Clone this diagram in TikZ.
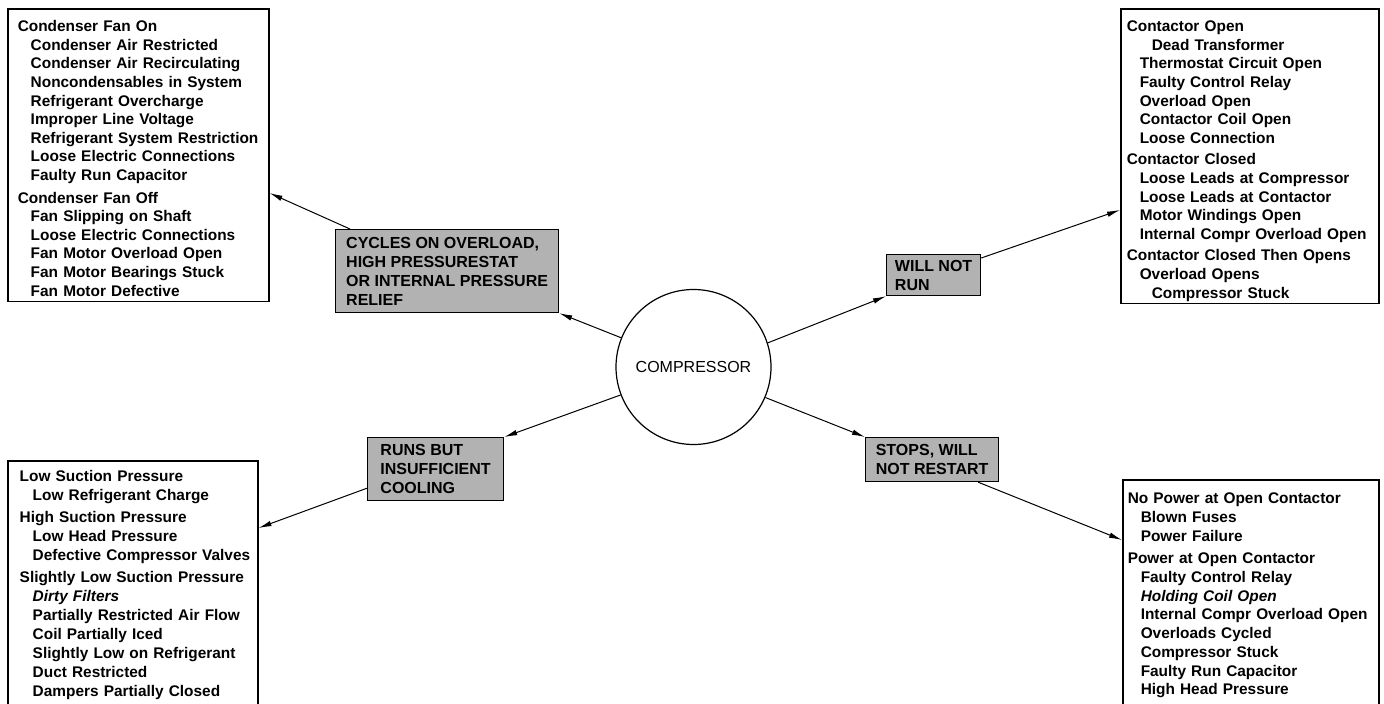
\documentclass[tikz,border=0pt]{standalone}
\usepackage{fontspec}
\setmainfont{Liberation Sans}
\usepackage{tikz}
\usetikzlibrary{arrows.meta}
\setlength{\parindent}{0pt}
\newcommand{\ind}{\hspace*{13pt}}
\newcommand{\iind}{\hspace*{25pt}}
\newcommand{\firstrow}[1]{\rule{0pt}{#1}}
\newcommand{\lastrow}{\rule[-10pt]{0pt}{10pt}}

\begin{document}
\begin{tikzpicture}[x=1pt,y=-1pt,
	listbox/.style={draw, line width=1.5pt, anchor=north west, inner ysep=0pt, align=left,
		font=\bfseries\fontsize{15.4}{18.6}\selectfont},
	fault/.style={draw, line width=1.2pt, fill=black!30, anchor=north west, inner sep=0pt, align=left,
		font=\bfseries\fontsize{16}{19}\selectfont},
	link/.style={line width=1pt, -{Latex[length=13pt,width=5.5pt]}}]
	\useasboundingbox (0,0) rectangle (1384,704);
	%compressor in the middle, one cause label per direction
	\node[draw, circle, line width=1.2pt, minimum size=155pt, inner sep=0pt,
		font=\fontsize{16}{18}\selectfont] (comp) at (693.5,367) {COMPRESSOR};
	
	\node[fault, minimum width=223pt, minimum height=83pt] (cycles) at (335,229)
		{CYCLES ON OVERLOAD,\\HIGH PRESSURESTAT\\OR INTERNAL PRESSURE\\RELIEF};
	\node[fault, minimum width=94pt, minimum height=41pt] (norun) at (886,254) {WILL NOT\\RUN};
	\node[fault, minimum width=136pt, minimum height=63pt] (lowcool) at (367,437) {RUNS BUT\\INSUFFICIENT\\COOLING};
	\node[fault, minimum width=133pt, minimum height=44pt] (norestart) at (865,437) {STOPS, WILL\\NOT RESTART};
	
	\node[listbox, inner xsep=10pt, text width=241pt] (fanbox) at (7,8) {\begin{tabular}{@{}l@{}}
		\firstrow{23pt}Condenser Fan On\\
		\ind Condenser Air Restricted\\
		\ind Condenser Air Recirculating\\
		\ind Noncondensables in System\\
		\ind Refrigerant Overcharge\\
		\ind Improper Line Voltage\\
		\ind Refrigerant System Restriction\\
		\ind Loose Electric Connections\\
		\ind Faulty Run Capacitor\\[4pt]
		Condenser Fan Off\\
		\ind Fan Slipping on Shaft\\
		\ind Loose Electric Connections\\
		\ind Fan Motor Overload Open\\
		\ind Fan Motor Bearings Stuck\\
		\ind Fan Motor Defective
	\end{tabular}};
	
	\node[listbox, inner xsep=6pt, text width=246pt] (runbox) at (1120,8) {\begin{tabular}{@{}l@{}}
		\firstrow{23pt}Contactor Open\\
		\iind Dead Transformer\\
		\ind Thermostat Circuit Open\\
		\ind Faulty Control Relay\\
		\ind Overload Open\\
		\ind Contactor Coil Open\\
		\ind Loose Connection\\[3pt]
		Contactor Closed\\
		\ind Loose Leads at Compressor\\
		\ind Loose Leads at Contactor\\
		\ind Motor Windings Open\\
		\ind Internal Compr Overload Open\\[3pt]
		Contactor Closed Then Opens\\
		\ind Overload Opens\\
		\iind Compressor Stuck
	\end{tabular}};
	
	\node[listbox, inner xsep=12pt, text width=226pt, font=\bfseries\fontsize{15.4}{19}\selectfont] (coolbox) at (7,460) {\begin{tabular}{@{}l@{}}
		\firstrow{21pt}Low Suction Pressure\\
		\ind Low Refrigerant Charge\\[3pt]
		High Suction Pressure\\
		\ind Low Head Pressure\\
		\ind Defective Compressor Valves\\[3pt]
		Slightly Low Suction Pressure\\
		\ind \textit{Dirty Filters}\\
		\ind Partially Restricted Air Flow\\
		\ind Coil Partially Iced\\
		\ind Slightly Low on Refrigerant\\
		\ind Duct Restricted\\
		\ind Dampers Partially Closed\lastrow
	\end{tabular}};
	
	\node[listbox, inner xsep=5pt, text width=246pt, font=\bfseries\fontsize{15.4}{18.7}\selectfont] (stopbox) at (1122,479) {\begin{tabular}{@{}l@{}}
		\firstrow{24pt}No Power at Open Contactor\\
		\ind Blown Fuses\\
		\ind Power Failure\\[4pt]
		Power at Open Contactor\\
		\ind Faulty Control Relay\\
		\ind \textit{Holding Coil Open}\\
		\ind Internal Compr Overload Open\\
		\ind Overloads Cycled\\
		\ind Compressor Stuck\\
		\ind Faulty Run Capacitor\\
		\ind High Head Pressure\lastrow
	\end{tabular}};
	
	\draw[link] (comp.158) -- (cycles.south east);
	\draw[link] ([xshift=15pt]cycles.north west) -- ([yshift=-185pt]fanbox.north east);
	\draw[link] (comp.18) -- (norun.south west);
	\draw[link] ([yshift=-4pt]norun.north east) -- ([yshift=-202pt]runbox.north west);
	\draw[link] (comp.201) -- (lowcool.north east);
	\draw[link] ([yshift=13pt]lowcool.south west) -- ([yshift=-68pt]coolbox.north east);
	\draw[link] (comp.337) -- (norestart.north west);
	\draw[link] ([xshift=-21pt]norestart.south east) -- ([yshift=-61pt]stopbox.north west);
\end{tikzpicture}
\end{document}
